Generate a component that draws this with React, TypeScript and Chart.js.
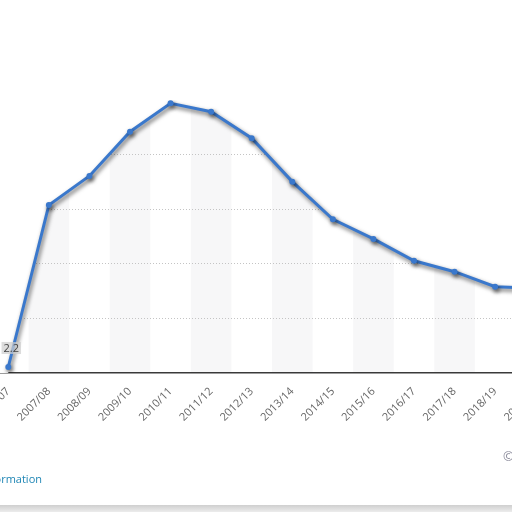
import React, { useEffect, useRef } from "react";
import { Chart, registerables } from "chart.js";

Chart.register(...registerables);

const categories = [
  "2006/07", "2007/08", "2008/09", "2009/10", "2010/11", "2011/12", "2012/13",
  "2013/14", "2014/15", "2015/16", "2016/17", "2017/18", "2018/19", "2019/20",
];
const values = [2.2, 61.5, 72.2, 88.4, 98.8, 95.7, 86.0, 70.1, 56.3, 49.1, 41.1, 37.1, 31.6, 31.0];
const labelledIndices = [0];
const yMin = 0;
const yMax = 100;
const yStep = 20;

const LINE = "#3a78cc";
const FONT = '"Open Sans", "DejaVu Sans", sans-serif';

const bandsPlugin = {
  id: "bands",
  beforeDraw(chart: any) {
    const { ctx, chartArea, scales } = chart;
    const xs = scales.x;
    const half = (xs.getPixelForValue(1) - xs.getPixelForValue(0)) / 2;
    ctx.save();
    ctx.fillStyle = "#f7f7f8";
    categories.forEach((_, i) => {
      if (i % 2 === 1) {
        const cx = xs.getPixelForValue(i);
        ctx.fillRect(cx - half, chartArea.top, half * 2, chartArea.bottom - chartArea.top);
      }
    });
    ctx.restore();
  },
  beforeDatasetsDraw(chart: any) {
    const { ctx, chartArea } = chart;
    const meta = chart.getDatasetMeta(0);
    const first = meta.data[0];
    const last = meta.data[meta.data.length - 1];
    ctx.save();
    ctx.fillStyle = "#ffffff";
    if (first) ctx.fillRect(chartArea.left, chartArea.top, first.x - chartArea.left, chartArea.bottom - chartArea.top);
    if (last) ctx.fillRect(last.x, chartArea.top, chartArea.right - last.x, chartArea.bottom - chartArea.top);
    ctx.restore();
  },
};

const shadowPlugin = {
  id: "lineShadow",
  beforeDatasetDraw(chart: any) {
    const ctx = chart.ctx;
    ctx.save();
    ctx.shadowColor = "rgba(0,0,0,0.6)";
    ctx.shadowBlur = 4;
    ctx.shadowOffsetX = 1.5;
    ctx.shadowOffsetY = 2.5;
  },
  afterDatasetDraw(chart: any) {
    chart.ctx.restore();
  },
};

const valueLabelPlugin = {
  id: "valueLabels",
  afterDatasetsDraw(chart: any) {
    const { ctx } = chart;
    const meta = chart.getDatasetMeta(0);
    ctx.save();
    ctx.font = `11px ${FONT}`;
    ctx.textAlign = "center";
    ctx.textBaseline = "middle";
    labelledIndices.forEach((i) => {
      const pt = meta.data[i];
      if (!pt) return;
      const text = String(values[i]);
      const w = ctx.measureText(text).width + 4;
      const cx = pt.x + 3;
      const cy = pt.y - 19;
      ctx.fillStyle = "rgba(205,205,205,0.7)";
      ctx.fillRect(cx - w / 2, cy - 6, w, 12);
      ctx.fillStyle = "#444";
      ctx.fillText(text, cx, cy + 0.5);
    });
    ctx.restore();
  },
};

function LineChart() {
  const ref = useRef<HTMLCanvasElement | null>(null);
  useEffect(() => {
    if (!ref.current) return;
    const chart = new Chart(ref.current, {
      type: "line",
      data: {
        labels: categories,
        datasets: [
          {
            data: values,
            borderColor: LINE,
            borderWidth: 3,
            backgroundColor: "#ffffff",
            fill: "end",
            pointRadius: 3,
            pointBackgroundColor: LINE,
            pointBorderWidth: 0,
            tension: 0,
          },
        ],
      },
      options: {
        responsive: false,
        animation: false,
        devicePixelRatio: 1,
        layout: { padding: { left: 40, right: 20, top: 40, bottom: 0 } },
        plugins: {
          legend: { display: false },
          tooltip: { enabled: false },
        },
        scales: {
          x: {
            offset: true,
            grid: { display: false, drawTicks: false },
            border: { display: true, color: "#3a3a3a", width: 1.5 },
            ticks: {
              autoSkip: false,
              minRotation: 45,
              maxRotation: 45,
              padding: 12,
              color: "#666",
              font: { family: FONT, size: 11 },
            },
            afterFit: (s: any) => {
              s.height = 139;
              s.paddingLeft = 0;
              s.paddingRight = 0;
            },
          },
          y: {
            min: yMin,
            max: yMax,
            ticks: { display: false, stepSize: yStep },
            grid: {
              drawTicks: false,
              lineWidth: 1,
              color: (c: any) =>
                c.tick && (c.tick.value === yMin || c.tick.value === yMax) ? "rgba(0,0,0,0)" : "#c4c4c4",
            },
            border: { display: false, dash: [1, 2] },
            afterFit: (s: any) => {
              s.width = 0;
              s.paddingTop = 0;
              s.paddingBottom = 0;
            },
          },
        },
      },
      plugins: [bandsPlugin, shadowPlugin, valueLabelPlugin],
    } as any);
    return () => chart.destroy();
  }, []);
  return (
    <div style={{ position: "absolute", left: -52, top: 60 }}>
      <canvas ref={ref} width={628} height={452} style={{ width: 628, height: 452, display: "block" }} />
    </div>
  );
}

export default function App() {
  return (
    <div
      style={{
        position: "fixed",
        left: 0,
        top: 0,
        width: 512,
        height: 512,
        overflow: "hidden",
        background: "#fff",
        fontFamily: FONT,
      }}
    >
      <LineChart />
      <span
        style={{
          position: "absolute",
          right: 470,
          top: 471,
          fontSize: 11,
          color: "#1f86b5",
          whiteSpace: "nowrap",
        }}
      >
        Additional Information
      </span>
      <span
        style={{
          position: "absolute",
          left: 503,
          top: 447,
          fontSize: 13,
          color: "#8a8a9a",
          whiteSpace: "nowrap",
        }}
      >
        ©
      </span>
      <div
        style={{
          position: "absolute",
          left: 0,
          top: 505,
          width: 512,
          height: 7,
          background: "linear-gradient(#cfcfcf, #ececec)",
        }}
      />
    </div>
  );
}
